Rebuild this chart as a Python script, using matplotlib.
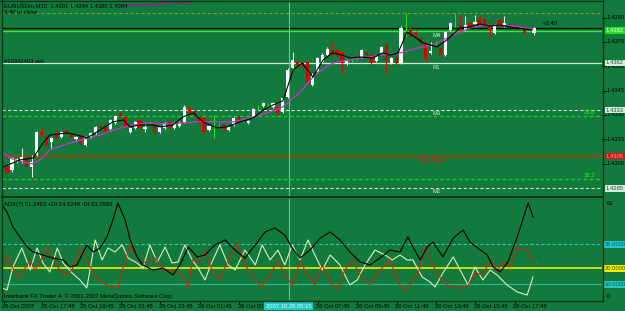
import matplotlib
matplotlib.use("Agg")
import matplotlib.pyplot as plt
import matplotlib.transforms as mtransforms
from matplotlib.lines import Line2D

W, H = 625, 311
BG = "#127a3c"
FRAME = "#0b3318"
FONT = "Liberation Sans"
FS = 4.2

# ---------------- candle data (EURUSDm, M15) ----------------
opens = [1.42979, 1.42961, 1.43010, 1.43010, 1.43029, 1.42979, 1.43053, 1.43195, 1.43164, 1.43133,
         1.43176, 1.43164, 1.43207, 1.43176, 1.43152, 1.43176, 1.43115, 1.43164, 1.43189, 1.43232,
         1.43220, 1.43213, 1.43250, 1.43312, 1.43287, 1.43195, 1.43220, 1.43269, 1.43213, 1.43250,
         1.43238, 1.43195, 1.43220, 1.43257, 1.43220, 1.43232, 1.43257, 1.43343, 1.43324, 1.43287,
         1.43281, 1.43207, 1.43250, 1.43238, 1.43238, 1.43207, 1.43238, 1.43287, 1.43269, 1.43250,
         1.43287, 1.43349, 1.43355, 1.43361, 1.43349, 1.43349, 1.43318, 1.43411, 1.43589, 1.43626,
         1.43620, 1.43626, 1.43484, 1.43565, 1.43626, 1.43669, 1.43700, 1.43700, 1.43688, 1.43614,
         1.43639, 1.43651, 1.43657, 1.43688, 1.43669, 1.43632, 1.43682, 1.43731, 1.43620, 1.43657,
         1.43620, 1.43836, 1.43836, 1.43811, 1.43774, 1.43743, 1.43682, 1.43743, 1.43712, 1.43669,
         1.43823, 1.43873, 1.43854, 1.43823, 1.43866, 1.43860, 1.43891, 1.43891, 1.43854, 1.43805,
         1.43885, 1.43848, 1.43854, 1.43854, 1.43842, 1.43836, 1.43823, 1.43805]
highs = [1.42992, 1.43041, 1.43035, 1.43096, 1.43053, 1.43053, 1.43201, 1.43220, 1.43176, 1.43164,
         1.43207, 1.43201, 1.43213, 1.43183, 1.43170, 1.43183, 1.43170, 1.43195, 1.43232, 1.43244,
         1.43226, 1.43275, 1.43300, 1.43318, 1.43293, 1.43226, 1.43263, 1.43275, 1.43257, 1.43263,
         1.43244, 1.43232, 1.43257, 1.43263, 1.43257, 1.43263, 1.43361, 1.43349, 1.43330, 1.43293,
         1.43287, 1.43238, 1.43300, 1.43250, 1.43244, 1.43232, 1.43287, 1.43293, 1.43281, 1.43269,
         1.43343, 1.43361, 1.43380, 1.43374, 1.43380, 1.43355, 1.43411, 1.43589, 1.43688, 1.43632,
         1.43626, 1.43632, 1.43558, 1.43657, 1.43682, 1.43719, 1.43749, 1.43706, 1.43694, 1.43645,
         1.43651, 1.43663, 1.43706, 1.43694, 1.43675, 1.43669, 1.43725, 1.43737, 1.43657, 1.43663,
         1.43848, 1.43928, 1.43873, 1.43817, 1.43780, 1.43749, 1.43749, 1.43755, 1.43719, 1.43817,
         1.43873, 1.43928, 1.43916, 1.43910, 1.43873, 1.43916, 1.43910, 1.43897, 1.43860, 1.43860,
         1.43891, 1.43910, 1.43860, 1.43860, 1.43848, 1.43842, 1.43836, 1.43842]
lows = [1.42911, 1.42948, 1.43004, 1.43004, 1.42973, 1.42917, 1.43047, 1.43170, 1.43109, 1.43096,
        1.43152, 1.43158, 1.43183, 1.43158, 1.43146, 1.43102, 1.43109, 1.43158, 1.43183, 1.43213,
        1.43195, 1.43207, 1.43244, 1.43287, 1.43220, 1.43189, 1.43213, 1.43213, 1.43195, 1.43238,
        1.43183, 1.43189, 1.43213, 1.43220, 1.43213, 1.43226, 1.43250, 1.43306, 1.43293, 1.43244,
        1.43189, 1.43201, 1.43158, 1.43226, 1.43207, 1.43201, 1.43232, 1.43244, 1.43257, 1.43244,
        1.43281, 1.43337, 1.43349, 1.43349, 1.43343, 1.43306, 1.43312, 1.43404, 1.43577, 1.43602,
        1.43565, 1.43497, 1.43478, 1.43558, 1.43620, 1.43663, 1.43663, 1.43657, 1.43558, 1.43608,
        1.43626, 1.43639, 1.43651, 1.43663, 1.43614, 1.43626, 1.43675, 1.43558, 1.43614, 1.43614,
        1.43614, 1.43780, 1.43774, 1.43786, 1.43737, 1.43626, 1.43675, 1.43731, 1.43663, 1.43663,
        1.43817, 1.43842, 1.43817, 1.43817, 1.43842, 1.43854, 1.43848, 1.43836, 1.43780, 1.43799,
        1.43842, 1.43842, 1.43836, 1.43829, 1.43823, 1.43799, 1.43811, 1.43793]
closes = [1.42942, 1.43035, 1.43029, 1.43041, 1.42979, 1.43010, 1.43195, 1.43176, 1.43115, 1.43158,
          1.43158, 1.43195, 1.43189, 1.43164, 1.43164, 1.43121, 1.43164, 1.43189, 1.43226, 1.43220,
          1.43201, 1.43269, 1.43293, 1.43293, 1.43226, 1.43220, 1.43257, 1.43220, 1.43226, 1.43250,
          1.43189, 1.43226, 1.43250, 1.43226, 1.43250, 1.43250, 1.43349, 1.43312, 1.43300, 1.43250,
          1.43195, 1.43232, 1.43250, 1.43238, 1.43213, 1.43226, 1.43281, 1.43250, 1.43269, 1.43263,
          1.43337, 1.43349, 1.43374, 1.43361, 1.43374, 1.43312, 1.43404, 1.43577, 1.43639, 1.43608,
          1.43595, 1.43503, 1.43546, 1.43651, 1.43669, 1.43706, 1.43669, 1.43669, 1.43620, 1.43639,
          1.43639, 1.43651, 1.43700, 1.43669, 1.43620, 1.43663, 1.43719, 1.43639, 1.43651, 1.43620,
          1.43836, 1.43836, 1.43780, 1.43793, 1.43743, 1.43651, 1.43694, 1.43743, 1.43669, 1.43811,
          1.43866, 1.43873, 1.43823, 1.43854, 1.43848, 1.43873, 1.43854, 1.43842, 1.43823, 1.43854,
          1.43848, 1.43866, 1.43842, 1.43836, 1.43829, 1.43805, 1.43823, 1.43836]

# moving averages drawn on the chart (bar position, price)
ma_slow_x = [-1.0, 1.0, 3.1, 5.1, 6.7, 8.7, 12.2, 15.8, 18.9, 22.3, 25.6, 29.0, 32.5, 35.7, 39.2,
             42.6, 45.9, 49.3, 52.8, 56.0, 59.5, 62.9, 66.2, 69.6, 73.1, 76.3, 79.8, 83.3, 86.5,
             89.3, 92.0, 94.6, 98.1, 102.7, 106.8]
ma_slow_y = [1.43072, 1.43029, 1.43010, 1.42998, 1.43022, 1.43084, 1.43121, 1.43152, 1.43176,
             1.43213, 1.43238, 1.43250, 1.43244, 1.43250, 1.43257, 1.43257, 1.43257, 1.43281,
             1.43312, 1.43349, 1.43441, 1.43558, 1.43620, 1.43639, 1.43657, 1.43669, 1.43682,
             1.43712, 1.43731, 1.43774, 1.43811, 1.43842, 1.43854, 1.43848, 1.43830]
ma_fast_x = [-0.8, 2.6, 5.3, 7.3, 8.7, 12.2, 14.2, 16.2, 18.9, 21.5, 23.6, 25.0, 27.0, 29.6, 31.1,
             33.7, 35.7, 37.8, 39.8, 42.6, 44.7, 47.3, 50.0, 52.0, 54.0, 56.0, 58.1, 59.9, 62.1,
             64.2, 66.0, 68.0, 69.6, 71.7, 74.3, 76.3, 77.8, 79.4, 81.2, 82.8, 84.5, 87.3, 89.3,
             92.0, 94.0, 96.0, 98.1, 100.1, 102.1, 104.8, 106.6]
ma_fast_y = [1.42979, 1.43022, 1.43035, 1.43127, 1.43176, 1.43189, 1.43176, 1.43158, 1.43207,
             1.43257, 1.43269, 1.43226, 1.43238, 1.43238, 1.43226, 1.43238, 1.43287, 1.43312,
             1.43257, 1.43220, 1.43226, 1.43257, 1.43281, 1.43330, 1.43361, 1.43386, 1.43577,
             1.43620, 1.43534, 1.43639, 1.43682, 1.43669, 1.43651, 1.43657, 1.43651, 1.43682,
             1.43669, 1.43682, 1.43811, 1.43780, 1.43743, 1.43719, 1.43762, 1.43836, 1.43842,
             1.43860, 1.43848, 1.43854, 1.43842, 1.43830, 1.43823]

# ---------------- ADX(7) panel ----------------
adx_x = [-1.0, 0.0, 1.2, 2.6, 4.1, 5.3, 7.3, 9.3, 11.4, 12.8, 14.2, 16.2, 17.5, 18.9, 20.3, 21.5,
         22.5, 24.0, 25.0, 26.4, 27.6, 29.6, 31.7, 33.7, 35.1, 36.8, 38.6, 40.2, 42.2, 44.3, 46.3,
         48.3, 50.4, 52.4, 54.4, 56.4, 57.9, 59.5, 61.5, 63.6, 65.6, 67.6, 69.6, 71.7, 73.7, 75.7,
         77.8, 79.8, 81.4, 82.4, 83.9, 85.3, 86.5, 88.5, 90.6, 92.6, 94.0, 95.6, 97.5, 98.7, 100.1,
         101.7, 103.6, 105.8, 106.8]
adx_v = [59.6, 55.2, 45.8, 39.6, 33.3, 30.2, 28.3, 26.4, 25.2, 20.8, 22.1, 34.6, 30.2, 32.7, 39.6,
         50.2, 60.8, 50.2, 37.7, 27.1, 22.1, 18.9, 20.2, 15.8, 22.1, 33.3, 27.1, 28.3, 34.6, 37.7,
         31.4, 26.4, 34.6, 42.7, 45.2, 40.8, 32.7, 26.4, 31.4, 38.9, 42.7, 37.7, 30.2, 23.9, 22.1,
         26.4, 31.4, 30.2, 39.6, 33.3, 25.2, 33.3, 36.4, 27.1, 38.9, 43.9, 36.4, 32.7, 28.3, 20.8,
         17.7, 23.9, 39.6, 60.8, 52.1]
mdi_x = [-1.0, 0.0, 1.2, 2.2, 3.7, 4.7, 5.7, 6.7, 8.1, 9.3, 10.4, 11.8, 13.2, 14.8, 16.2, 17.9,
         19.5, 21.3, 22.5, 23.6, 25.0, 26.4, 27.6, 30.1, 31.7, 33.7, 35.7, 36.8, 37.6, 38.8, 40.2,
         41.6, 43.2, 44.9, 46.7, 48.3, 50.4, 51.8, 53.4, 55.0, 56.4, 57.9, 59.5, 61.1, 62.5, 64.0,
         65.6, 67.0, 68.6, 70.1, 71.7, 73.7, 75.7, 77.8, 79.2, 79.8, 81.2, 82.4, 83.5, 84.9, 85.9,
         87.5, 89.3, 91.4, 93.4, 95.0, 96.6, 98.1, 99.5, 100.7, 102.1, 103.6, 105.6, 106.8]
mdi_v = [20.2, 28.3, 20.2, 13.9, 20.2, 25.2, 18.9, 23.9, 32.7, 26.4, 20.2, 15.8, 18.9, 32.7, 25.2,
         14.6, 10.8, 8.3, 7.7, 20.8, 34.6, 26.4, 23.3, 26.4, 18.9, 18.9, 14.6, 8.3, 25.2, 23.9,
         31.4, 18.9, 12.7, 25.2, 35.8, 22.1, 12.7, 8.3, 15.8, 25.2, 15.8, 9.6, 23.9, 15.8, 9.6,
         22.1, 10.8, 6.4, 18.9, 25.2, 15.8, 9.6, 18.9, 25.2, 12.7, 9.6, 6.4, 12.7, 17.1, 33.3,
         25.2, 15.8, 9.6, 7.7, 8.3, 17.1, 15.8, 25.2, 18.9, 23.9, 20.8, 32.7, 31.4, 23.9]
pdi_x = [-1.0, 0.0, 1.2, 3.0, 4.7, 6.1, 7.3, 8.7, 10.2, 11.4, 13.2, 14.8, 16.2, 17.9, 19.3, 20.5,
         21.9, 23.4, 24.6, 26.4, 27.6, 29.0, 30.5, 32.1, 33.5, 34.7, 36.1, 37.6, 38.8, 40.2, 41.6,
         43.2, 44.9, 46.3, 48.3, 50.4, 51.8, 53.4, 55.0, 56.4, 57.9, 59.5, 61.1, 62.5, 64.0, 65.6,
         67.6, 69.6, 71.1, 72.7, 74.7, 76.8, 78.2, 79.8, 81.2, 82.4, 84.3, 85.9, 86.9, 88.5, 90.6,
         92.0, 93.6, 95.0, 96.6, 98.1, 99.5, 101.5, 103.6, 105.6, 106.8]
pdi_v = [7.7, 6.4, 20.8, 32.7, 18.9, 32.7, 23.3, 17.7, 32.7, 23.3, 17.1, 12.7, 7.7, 37.7, 25.2,
         32.7, 30.2, 34.6, 26.4, 23.3, 20.2, 34.6, 23.9, 33.3, 23.3, 23.9, 34.6, 25.2, 20.2, 12.7,
         23.9, 34.6, 22.1, 18.9, 31.4, 22.1, 34.6, 25.2, 31.4, 22.1, 34.6, 25.2, 37.7, 28.3, 18.9,
         28.3, 22.1, 9.6, 12.7, 22.1, 31.4, 28.3, 25.2, 28.3, 25.2, 25.2, 14.6, 11.4, 8.3, 17.1,
         27.1, 18.9, 9.6, 20.8, 12.7, 18.9, 15.8, 9.6, 5.2, 3.3, 14.6]
adx_levels = [35.0, 20.0, 10.0]

# ---------------- price levels / objects ----------------
level_fib_top = 1.43928
order_line = 1.43833
bid_price = 1.43818
r1_level = 1.4362
m3_level = 1.4333
fib236_level = 1.43293
pivot_level = 1.43046
fib382_level = 1.42903
m2_level = 1.42848
price_ticks = [1.4390, 1.4375, 1.4360, 1.4345, 1.4330, 1.4315, 1.4300]
time_labels = ["25 Oct 2007", "25 Oct 17:45", "25 Oct 19:45", "25 Oct 21:45", "25 Oct 23:45",
               "26 Oct 01:45", "26 Oct 03:45", "26 Oct 07:45", "26 Oct 09:45", "26 Oct 11:45",
               "26 Oct 13:45", "26 Oct 15:45", "26 Oct 17:45"]
time_pos = [-1.0, 6.8, 14.8, 22.8, 30.8, 38.8, 46.8, 62.8, 70.8, 78.8, 86.8, 94.8, 102.8]
vline_pos = 57.2

# ---------------- figure ----------------
fig = plt.figure(figsize=(W / 100, H / 100), dpi=100, facecolor=BG)


def fx(x):
    return x / W


def fy(y):
    return 1 - y / H


axp = fig.add_axes([fx(2), fy(196), 600 / W, 195 / H])
axi = fig.add_axes([fx(2), fy(300.3), 600 / W, (300.3 - 199) / H])
for ax in (axp, axi):
    ax.set_facecolor(BG)
    ax.set_xlim(-1.02, 120.8)
    for s in ax.spines.values():
        s.set_visible(False)
    ax.set_xticks([])
    ax.set_yticks([])
axp.set_ylim(1.42800, 1.44002)
axi.set_ylim(0, 63.3)

# horizontal levels in price panel
axp.axhline(level_fib_top, color="#78a030", lw=0.8, ls=(0, (3, 2)), zorder=1)
axp.axhline(order_line, color="#000000", lw=0.9, zorder=1)
axp.axhline(bid_price, color="#33ee33", lw=1.0, zorder=1)
axp.axhline(r1_level, color="#d8e8d8", lw=0.9, zorder=1)
axp.axhline(m3_level, color="#d0dcd0", lw=0.8, ls=(0, (3, 2)), zorder=1)
axp.axhline(fib236_level, color="#22d022", lw=0.9, ls=(0, (3, 2)), zorder=1)
axp.axhline(pivot_level, color="#7a5212", lw=1.8, zorder=1)
axp.axhline(fib382_level, color="#22d022", lw=0.9, ls=(0, (3, 2)), zorder=1)
axp.axhline(m2_level, color="#d0dcd0", lw=0.8, ls=(0, (3, 2)), zorder=1)

# purple object near top
axp.plot([23.5, 31.0, 31.0, 37.2], [1.43977, 1.43980, 1.43990, 1.43992],
         color="#9a1a9a", lw=1.0, zorder=2)

# vertical line
for ax in (axp, axi):
    ax.axvline(vline_pos, color="#55cc88", lw=0.8, zorder=1)

# candles
idx = list(range(len(opens)))
body_bottom, body_height, body_col, wick_col = [], [], [], []
for o, c in zip(opens, closes):
    lo, hi = min(o, c), max(o, c)
    if c > o:
        body_col.append("#ffffff")
        wick_col.append("#e8f0e8")
    elif c < o:
        body_col.append("#dd0000")
        wick_col.append("#cc1010")
    else:
        body_col.append("#22dd22")
        wick_col.append("#22dd22")
    h = max(hi - lo, 0.000035)
    body_bottom.append(lo - (0.0000175 if hi == lo else 0))
    body_height.append(h)
axp.vlines(idx, lows, highs, colors=wick_col, lw=0.75, zorder=3)
axp.bar(idx, body_height, bottom=body_bottom, width=0.64, color=body_col,
        edgecolor="none", zorder=4)

# moving averages
axp.plot(ma_slow_x, ma_slow_y, color="#cc33cc", lw=0.9, zorder=5)
axp.plot(ma_fast_x, ma_fast_y, color="#000000", lw=0.8, zorder=5)

# indicator levels and lines
axi.axhline(adx_levels[0], color="#30c8b8", lw=0.8, ls=(0, (3, 2)), zorder=1)
axi.axhline(adx_levels[1], color="#eeee00", lw=1.2, zorder=1)
axi.axhline(adx_levels[2], color="#22b890", lw=0.9, zorder=1)
axi.plot(pdi_x, pdi_v, color="#e0ecc0", lw=0.8, zorder=3)
axi.plot(mdi_x, mdi_v, color="#c82a10", lw=0.8, zorder=3)
axi.plot(adx_x, adx_v, color="#000000", lw=0.8, zorder=4)


# frame lines
def fline(x0, y0, x1, y1, color=FRAME, lw=1.0):
    fig.add_artist(Line2D([fx(x0), fx(x1)], [fy(y0), fy(y1)], color=color, lw=lw,
                          transform=fig.transFigure))


fline(0, 0.5, 602.5, 0.5)
fline(2, 0, 2, 300.5)
fline(602.5, 0, 602.5, 300.5)
fline(2, 196.8, 602.5, 196.8, lw=1.4)
fline(2, 300.5, 602.5, 300.5)

tk = dict(fontfamily=FONT, fontsize=FS, color="#000000")

# right price axis
trp = mtransforms.blended_transform_factory(fig.transFigure, axp.transData)
trpt = mtransforms.blended_transform_factory(axp.transAxes, axp.transData)
for v in price_ticks:
    axp.plot([1.0, 1.006], [v, v], transform=trpt, clip_on=False, color="#000000", lw=0.6)
    axp.text(fx(606.5), v, f"{v:.4f}", transform=trp, va="center", ha="left", **tk)


def box_label(ax, tr, v, text, bg, fg, x=606):
    ax.text(fx(x), v, text, transform=tr, va="center", ha="left", fontfamily=FONT,
            fontsize=FS, color=fg, zorder=10,
            bbox=dict(boxstyle="square,pad=0.15", fc=bg, ec="none"))


box_label(axp, trp, bid_price, "1.4382", "#22dd22", "#e8ffe8")
box_label(axp, trp, r1_level, "1.4362", "#d8e8e0", "#106030")
box_label(axp, trp, m3_level, "1.4333", "#d8e8e0", "#106030")
box_label(axp, trp, pivot_level, "1.4305", "#dd1010", "#ff9a9a")
box_label(axp, trp, m2_level, "1.4285", "#d8e8e0", "#106030")

# right indicator axis
tri = mtransforms.blended_transform_factory(fig.transFigure, axi.transData)
axi.text(fx(607), 60.8, "63", transform=tri, va="center", ha="left", **tk)
axi.text(fx(607), 2.5, "0", transform=tri, va="center", ha="left", **tk)
box_label(axi, tri, adx_levels[0], "35.0000", "#22c8c8", "#0c5a5a", x=604.5)
box_label(axi, tri, adx_levels[1], "20.0000", "#f0f000", "#4a4a00", x=604.5)
box_label(axi, tri, adx_levels[2], "10.0000", "#22c8b8", "#0c5a5a", x=604.5)

# chart texts
fig.text(fx(4), fy(6), "EURUSDm,M15  1.4391 1.4394 1.4380 1.4384", va="center", ha="left", **tk)
fig.text(fx(4), fy(13), "3:40 to close", va="center", ha="left", **tk)
fig.text(fx(4), fy(61.5), "#10342403 sell", va="center", ha="left", **tk)
axp.text(108.8, 1.43862, "<3:40", va="center", ha="left", **tk)

lab = dict(fontfamily=FONT, fontsize=FS, va="center", ha="left", zorder=8)
axp.text(86.3, 1.43790, "M4", color="#e0e8e0", **lab)
axp.text(86.3, 1.43590, "R1", color="#e8f0e8", **lab)
axp.text(86.3, 1.43310, "M3", color="#e0e8e0", **lab)
axp.text(83.3, 1.43020, "Daily Pivot", color="#dd2020", **lab)
axp.text(86.3, 1.42825, "M2", color="#e0e8e0", **lab)
axp.text(119.5, 1.43312, "23.6", color="#33ee33", fontfamily=FONT, fontsize=FS,
         va="center", ha="right", zorder=8)
axp.text(119.5, 1.42925, "38.2", color="#33ee33", fontfamily=FONT, fontsize=FS,
         va="center", ha="right", zorder=8)

axi.text(0.003, 0.945, "ADX(7) 51.2463 +DI:14.5249 -DI:23.7693", transform=axi.transAxes,
         va="center", ha="left", **tk)
axi.text(0.003, 0.04, "Interbank FX Trader 4, \u00a9 2001-2007 MetaQuotes Software Corp.",
         transform=axi.transAxes, va="center", ha="left", **tk)

# time axis
trt = mtransforms.blended_transform_factory(axi.transData, fig.transFigure)
for lbl, p in zip(time_labels, time_pos):
    axi.text(p, fy(306), lbl, transform=trt, va="center", ha="left", clip_on=False, **tk)
    axi.plot([p + 0.3, p + 0.3], [fy(300.5), fy(303)], transform=trt, clip_on=False,
             color="#000000", lw=0.6)
axi.text(vline_pos, fy(306), "2007.10.26 05:15", transform=trt, va="center", ha="center",
         fontfamily=FONT, fontsize=FS, color="#e8ffff", zorder=10, clip_on=False,
         bbox=dict(boxstyle="square,pad=0.25", fc="#22c8c8", ec="none"))

fig.savefig("out.png", dpi=100, facecolor=BG)
